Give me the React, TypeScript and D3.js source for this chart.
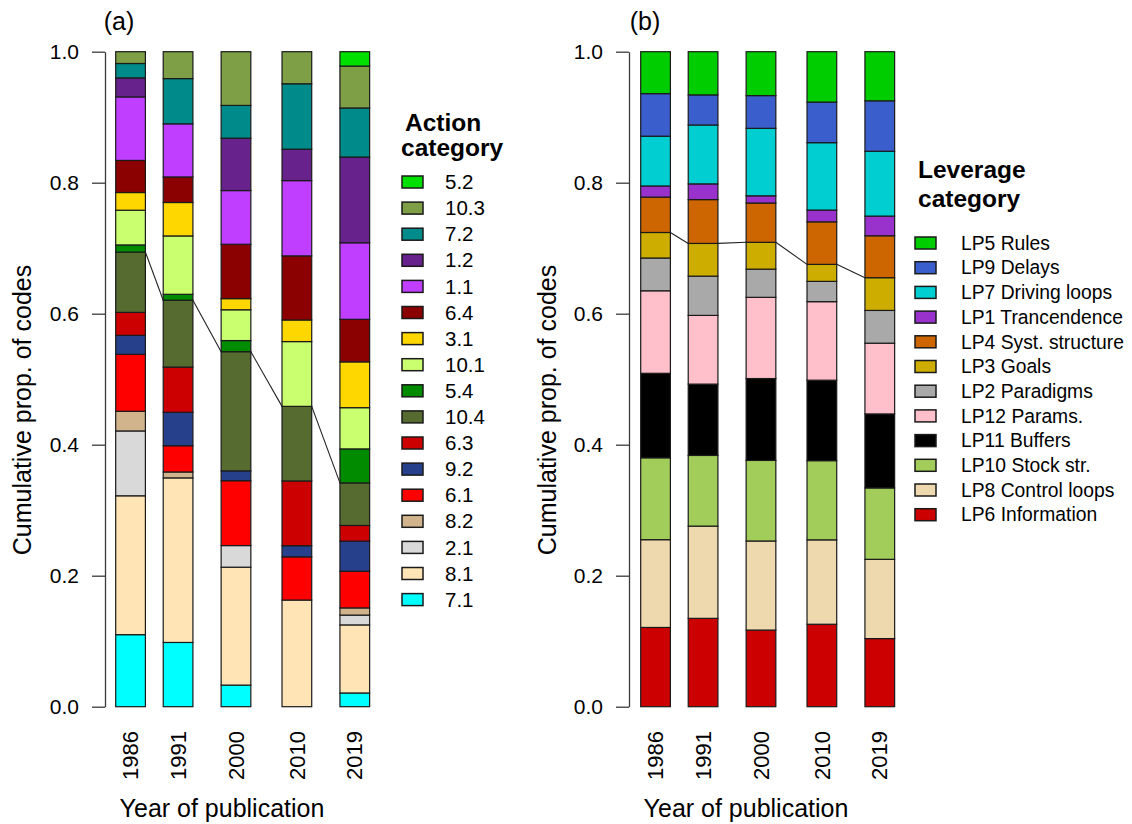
import * as d3 from "d3";
import { useEffect, useRef } from "react";

const years = ["1986", "1991", "2000", "2010", "2019"];

// legend order (top of the stack first)
const actionCategories = ["5.2", "10.3", "7.2", "1.2", "1.1", "6.4", "3.1", "10.1", "5.4", "10.4", "6.3", "9.2", "6.1", "8.2", "2.1", "8.1", "7.1"];
const actionColors = ["#00e000", "#7f9f46", "#008b8b", "#68228b", "#bf3eff", "#8b0000", "#ffd700", "#caff70", "#008b00", "#556b2f", "#cd0000", "#27408b", "#ff0000", "#d2b48c", "#d9d9d9", "#ffe4b5", "#00ffff"];

const actionShares1986 = [0, 0.018, 0.022, 0.029, 0.097, 0.049, 0.027, 0.053, 0.011, 0.092, 0.035, 0.029, 0.087, 0.03, 0.099, 0.212, 0.11];
const actionShares1991 = [0, 0.041, 0.069, 0, 0.081, 0.039, 0.051, 0.089, 0.009, 0.102, 0.069, 0.051, 0.04, 0.009, 0, 0.251, 0.098];
const actionShares2000 = [0, 0.082, 0.05, 0.08, 0.082, 0.083, 0.017, 0.047, 0.017, 0.182, 0, 0.015, 0.099, 0, 0.033, 0.18, 0.033];
const actionShares2010 = [0, 0.049, 0.1, 0.048, 0.115, 0.098, 0.033, 0.099, 0, 0.114, 0.099, 0.017, 0.066, 0, 0, 0.163, 0];
const actionShares2019 = [0.022, 0.064, 0.075, 0.131, 0.117, 0.065, 0.07, 0.063, 0.052, 0.065, 0.024, 0.046, 0.056, 0.011, 0.015, 0.104, 0.021];

const leverageCategories = ["LP5 Rules", "LP9 Delays", "LP7 Driving loops", "LP1 Trancendence", "LP4 Syst. structure", "LP3 Goals", "LP2 Paradigms", "LP12 Params.", "LP11 Buffers", "LP10 Stock str.", "LP8 Control loops", "LP6 Information"];
const leverageColors = ["#00cd00", "#3a5fcd", "#00ced1", "#9932cc", "#cd6600", "#cdad00", "#a9a9a9", "#ffc0cb", "#000000", "#a2cd5a", "#eed8ae", "#cd0000"];

const leverageShares1986 = [0.064, 0.065, 0.076, 0.017, 0.054, 0.039, 0.05, 0.126, 0.129, 0.125, 0.134, 0.121];
const leverageShares1991 = [0.066, 0.046, 0.09, 0.024, 0.067, 0.05, 0.06, 0.105, 0.109, 0.108, 0.141, 0.135];
const leverageShares2000 = [0.067, 0.05, 0.103, 0.011, 0.06, 0.041, 0.043, 0.124, 0.125, 0.123, 0.136, 0.117];
const leverageShares2010 = [0.077, 0.062, 0.103, 0.018, 0.065, 0.026, 0.031, 0.12, 0.123, 0.121, 0.129, 0.126];
const leverageShares2019 = [0.075, 0.077, 0.099, 0.03, 0.064, 0.05, 0.05, 0.108, 0.113, 0.109, 0.121, 0.104];

const yTicks = [0, 0.2, 0.4, 0.6, 0.8, 1.0];

// gaps between bars, in bar widths (like barplot's space)
const barGaps = [0.6, 0.95, 1.05, 0.95];
const barWidth = 29.7;
const yTop = 51.7;
const yBottom = 706.7;
const FONT = "Arial, 'Liberation Sans', Helvetica, sans-serif";

const panels = [
  {
    id: "a",
    label: "(a)",
    categories: actionCategories,
    colors: actionColors,
    shares: [actionShares1986, actionShares1991, actionShares2000, actionShares2010, actionShares2019],
    lineKey: "10.4",
    axisX: 105,
    barStart: 115.7,
    labelX: 119,
    yTitleX: 31,
    xTitleX: 222,
    legendTitle: [
      { text: "Action", x: 405, y: 131 },
      { text: "category", x: 401, y: 156 },
    ],
    swatchX: 402,
    textX: 445,
    textSize: 20.5,
    rowY0: 182,
    rowStep: 26.1,
  },
  {
    id: "b",
    label: "(b)",
    categories: leverageCategories,
    colors: leverageColors,
    shares: [leverageShares1986, leverageShares1991, leverageShares2000, leverageShares2010, leverageShares2019],
    lineKey: "LP3 Goals",
    axisX: 629,
    barStart: 640.7,
    labelX: 645,
    yTitleX: 556,
    xTitleX: 746,
    legendTitle: [
      { text: "Leverage", x: 918, y: 178 },
      { text: "category", x: 918, y: 207 },
    ],
    swatchX: 915,
    textX: 961,
    textSize: 19.3,
    rowY0: 243,
    rowStep: 24.7,
  },
];

type PanelConfig = (typeof panels)[number];

const yScale = d3.scaleLinear().domain([0, 1]).range([yBottom, yTop]);

function Panel({ cfg }: { cfg: PanelConfig }) {
  const axisRef = useRef<SVGGElement>(null);

  useEffect(() => {
    if (!axisRef.current) return;
    const g = d3.select(axisRef.current);
    g.selectAll("*").remove();
    g.call(
      d3
        .axisLeft(yScale)
        .tickValues(yTicks)
        .tickSize(13)
        .tickSizeOuter(0)
        .tickPadding(13)
        .tickFormat(d3.format(".1f"))
    );
    g.select(".domain").attr("stroke", "#3a3a3a").attr("stroke-width", 1.3);
    g.selectAll(".tick line").attr("stroke", "#3a3a3a").attr("stroke-width", 1.3);
    g.selectAll(".tick text")
      .attr("fill", "#000")
      .style("font-family", FONT)
      .style("font-size", "21px");
  }, []);

  const stackKeys = [...cfg.categories].reverse();
  const rows = years.map((year, i) => {
    const row: Record<string, number | string> = { year };
    cfg.categories.forEach((c, j) => (row[c] = cfg.shares[i][j]));
    return row;
  });
  const series = d3
    .stack<Record<string, number | string>>()
    .keys(stackKeys)
    .value((d, key) => d[key] as number)
    .offset(d3.stackOffsetExpand)(rows);

  const colorOf = d3.scaleOrdinal<string, string>().domain(cfg.categories).range(cfg.colors);

  // bar slots in bar-width units
  const slots: number[] = [0];
  barGaps.forEach((gap, i) => slots.push(slots[i] + 1 + gap));
  const totalUnits = slots[slots.length - 1] + 1;
  const xScale = d3
    .scaleLinear()
    .domain([0, totalUnits])
    .range([cfg.barStart, cfg.barStart + totalUnits * barWidth]);

  const lineSeries = series.find((s) => s.key === cfg.lineKey)!;
  const connectors = years.slice(0, -1).map((_, i) => ({
    x1: xScale(slots[i] + 1),
    y1: yScale(lineSeries[i][1]),
    x2: xScale(slots[i + 1]),
    y2: yScale(lineSeries[i + 1][1]),
  }));

  return (
    <g>
      <text x={cfg.labelX} y={30} textAnchor="middle" fontSize={25} fontFamily={FONT}>
        {cfg.label}
      </text>
      <g ref={axisRef} transform={`translate(${cfg.axisX},0)`} />
      {series.map((s) => (
        <g key={s.key} fill={colorOf(s.key)}>
          {s.map((d, i) =>
            d[1] - d[0] > 0.0005 ? (
              <rect
                key={i}
                x={xScale(slots[i])}
                width={xScale(slots[i] + 1) - xScale(slots[i])}
                y={yScale(d[1])}
                height={yScale(d[0]) - yScale(d[1])}
                stroke="#1a1a1a"
                strokeWidth={1.2}
              />
            ) : null
          )}
        </g>
      ))}
      {connectors.map((c, i) => (
        <line key={i} {...c} stroke="#222" strokeWidth={1.1} />
      ))}
      {years.map((year, i) => {
        const cx = xScale(slots[i] + 0.5);
        return (
          <text
            key={year}
            transform={`translate(${cx},731) rotate(-90)`}
            textAnchor="end"
            dy="0.35em"
            fontSize={22}
            fontFamily={FONT}
          >
            {year}
          </text>
        );
      })}
      <text x={cfg.xTitleX} y={817} textAnchor="middle" fontSize={25} fontFamily={FONT}>
        Year of publication
      </text>
      <text
        transform={`translate(${cfg.yTitleX},410) rotate(-90)`}
        textAnchor="middle"
        fontSize={25}
        fontFamily={FONT}
      >
        Cumulative prop. of codes
      </text>
      {cfg.legendTitle.map((t) => (
        <text key={t.text} x={t.x} y={t.y} fontSize={24.5} fontWeight="bold" fontFamily={FONT}>
          {t.text}
        </text>
      ))}
      {cfg.categories.map((c, i) => {
        const cy = cfg.rowY0 + i * cfg.rowStep;
        return (
          <g key={c}>
            <rect
              x={cfg.swatchX}
              y={cy - 6}
              width={21}
              height={12}
              fill={colorOf(c)}
              stroke="#1a1a1a"
              strokeWidth={1.5}
            />
            <text x={cfg.textX} y={cy} dy="0.35em" fontSize={cfg.textSize} fontFamily={FONT}>
              {c}
            </text>
          </g>
        );
      })}
    </g>
  );
}

export default function App() {
  return (
    <svg
      width={1132}
      height={824}
      style={{ position: "absolute", left: 0, top: 0, background: "#fff" }}
    >
      <rect width={1132} height={824} fill="#fff" />
      {panels.map((p) => (
        <Panel key={p.id} cfg={p} />
      ))}
    </svg>
  );
}
